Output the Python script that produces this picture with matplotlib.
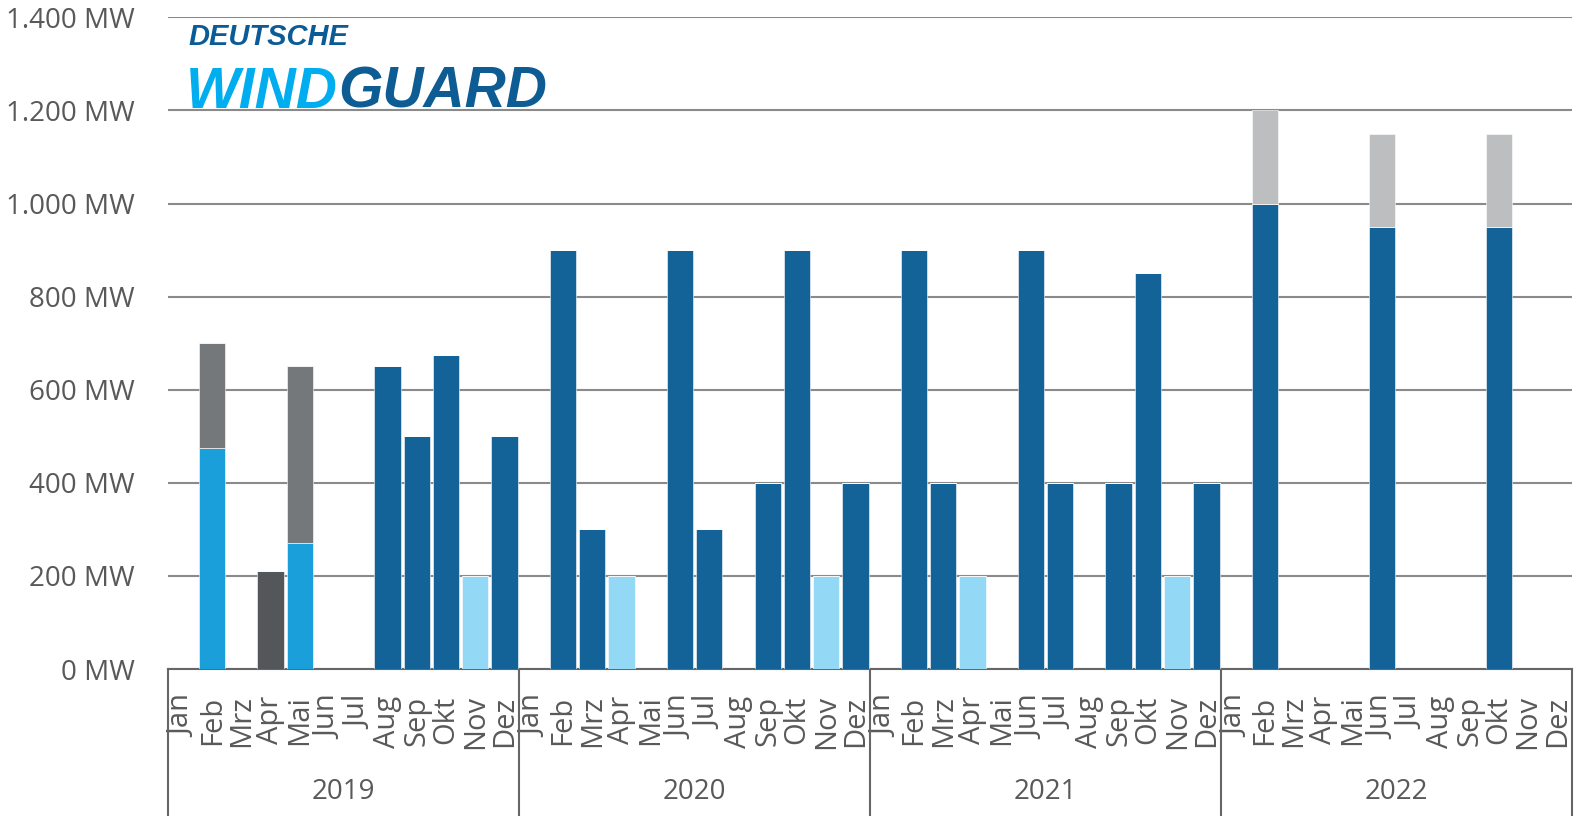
import numpy as np
import matplotlib
matplotlib.use("Agg")
import matplotlib.pyplot as plt
from matplotlib.transforms import blended_transform_factory

plt.rcParams["font.family"] = ["Open Sans", "DejaVu Sans"]

YEARS = ["2019", "2020", "2021", "2022"]
MONTHS = ["Jan", "Feb", "Mrz", "Apr", "Mai", "Jun",
          "Jul", "Aug", "Sep", "Okt", "Nov", "Dez"]

# MW per month, Jan 2019 .. Dez 2022
dunkelblau = [0, 0, 0, 0, 0, 0, 0, 650, 500, 675, 0, 500,
              0, 900, 300, 0, 0, 900, 300, 0, 400, 900, 0, 400,
              0, 900, 400, 0, 0, 900, 400, 0, 400, 850, 0, 400,
              0, 1000, 0, 0, 0, 950, 0, 0, 0, 950, 0, 0]
hellblau = [0, 475, 0, 0, 270, 0, 0, 0, 0, 0, 0, 0] + [0] * 36
dunkelgrau = [0, 0, 0, 210, 0, 0, 0, 0, 0, 0, 0, 0] + [0] * 36
blassblau = ([0] * 10 + [200, 0]
             + [0, 0, 0, 200, 0, 0, 0, 0, 0, 0, 200, 0]
             + [0, 0, 0, 200, 0, 0, 0, 0, 0, 0, 200, 0]
             + [0] * 12)
grau = [0, 225, 0, 0, 380, 0, 0, 0, 0, 0, 0, 0] + [0] * 36
hellgrau = [0] * 36 + [0, 200, 0, 0, 0, 200, 0, 0, 0, 200, 0, 0]

SERIES = [
    (dunkelblau, "#136399"),
    (hellblau, "#1a9fdb"),
    (dunkelgrau, "#53575a"),
    (blassblau, "#93d8f5"),
    (grau, "#75787b"),
    (hellgrau, "#bdbec0"),
]

TEXT = "#595959"

fig = plt.figure(figsize=(15.83, 8.16), dpi=100)
ax = fig.add_axes([0.1063, 0.1801, 0.8867, 0.7987])

x = np.arange(len(YEARS) * len(MONTHS))
bottom = np.zeros(len(x))
for vals, color in SERIES:
    vals = np.array(vals, dtype=float)
    ax.bar(x, vals, width=0.9, bottom=bottom, color=color,
           edgecolor="white", linewidth=0.4, zorder=3)
    bottom += vals

ax.set_xlim(-0.5, len(x) - 0.5)
ax.set_ylim(0, 1400)
ax.set_yticks(range(0, 1401, 200))
ax.set_yticklabels([f"{v:,} MW".replace(",", ".") for v in range(0, 1401, 200)])
ax.grid(axis="y", color="#8a8a8a", linewidth=1.5, zorder=0)
ax.tick_params(axis="y", length=0, pad=24, labelsize=20, labelcolor=TEXT)

ax.set_xticks(x)
ax.set_xticklabels(MONTHS * len(YEARS), rotation=90)
ax.tick_params(axis="x", length=0, pad=19, labelsize=21, labelcolor=TEXT)

for side in ["top", "right", "left"]:
    ax.spines[side].set_visible(False)
ax.spines["bottom"].set_color("#666666")
ax.spines["bottom"].set_linewidth(1.5)

# year brackets under the month labels
trans = blended_transform_factory(ax.transData, ax.transAxes)
for i in range(len(YEARS) + 1):
    xs = i * len(MONTHS) - 0.5
    ax.plot([xs, xs], [0, -0.23], color="#666666", linewidth=1.5,
            transform=trans, clip_on=False)
for i, year in enumerate(YEARS):
    ax.text(i * len(MONTHS) + 5.5, -0.189, year, transform=trans,
            ha="center", va="center", fontsize=20, color=TEXT)

# logo
logo_font = ["Liberation Sans Narrow", "Liberation Sans", "DejaVu Sans"]
fig.text(188 / 1583, 1 - 45 / 816, "DEUTSCHE", family=logo_font,
         fontsize=21, fontweight="bold", style="italic", color="#0a5b96")
wind = fig.text(186 / 1583, 1 - 108 / 816, "WIND", family=logo_font,
                fontsize=41, fontweight="bold", style="italic", color="#00adef")
ax.annotate("GUARD", xy=(1, 0), xycoords=wind, va="bottom", ha="left",
            family=logo_font, fontsize=41, fontweight="bold", style="italic",
            color="#0d5c94", annotation_clip=False)

fig.savefig("out.png", dpi=100)
